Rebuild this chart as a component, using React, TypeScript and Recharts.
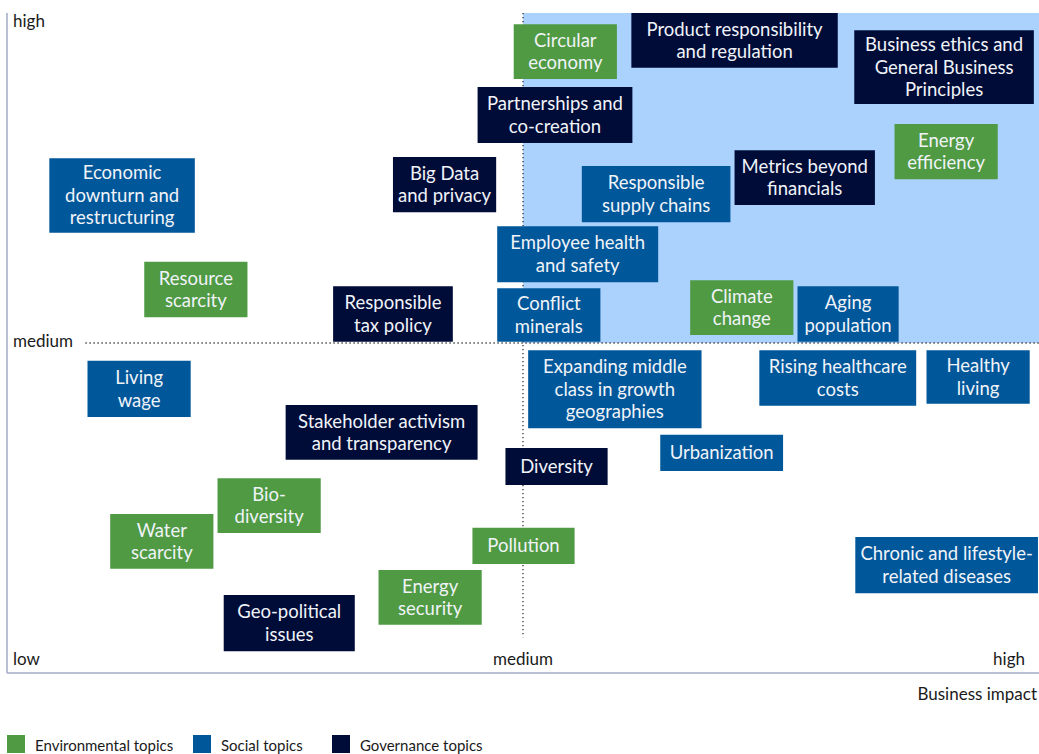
import React from 'react';
import { ScatterChart, Scatter, XAxis, YAxis, ReferenceArea, ReferenceLine } from 'recharts';

const FONT = 'Lato, "Liberation Sans", sans-serif';

// Topic labels ("\n" = line break)
const topics = [
  'Circular\neconomy',
  'Product responsibility\nand regulation',
  'Business ethics and\nGeneral Business\nPrinciples',
  'Partnerships and\nco-creation',
  'Energy\nefficiency',
  'Economic\ndownturn and\nrestructuring',
  'Big Data\nand privacy',
  'Metrics beyond\nfinancials',
  'Responsible\nsupply chains',
  'Employee health\nand safety',
  'Resource\nscarcity',
  'Responsible\ntax policy',
  'Conflict\nminerals',
  'Climate\nchange',
  'Aging\npopulation',
  'Living\nwage',
  'Expanding middle\nclass in growth\ngeographies',
  'Rising healthcare\ncosts',
  'Healthy\nliving',
  'Stakeholder activism\nand transparency',
  'Diversity',
  'Urbanization',
  'Bio-\ndiversity',
  'Water\nscarcity',
  'Pollution',
  'Chronic and lifestyle-\nrelated diseases',
  'Energy\nsecurity',
  'Geo-political\nissues',
];

// Topic group: env / soc / gov
const groups = [
  'env', 'gov', 'gov', 'gov', 'env', 'soc', 'gov', 'gov', 'soc', 'soc',
  'env', 'gov', 'soc', 'env', 'soc', 'soc', 'soc', 'soc', 'soc', 'gov',
  'gov', 'soc', 'env', 'env', 'env', 'soc', 'env', 'gov',
];

// Business impact range (0 = low, 50 = medium, 100 = high)
const impactFrom = [
  49.1, 60.5, 82.1, 45.6, 86.0, 4.1, 37.4, 70.5, 55.7, 47.5,
  13.3, 31.6, 47.5, 66.2, 76.6, 7.8, 50.5, 72.9, 89.1, 27.0,
  48.3, 63.3, 20.4, 10.0, 45.1, 82.2, 36.0, 21.0,
];
const impactTo = [
  59.1, 80.5, 99.5, 60.6, 96.0, 18.2, 47.4, 84.1, 70.1, 63.1,
  23.3, 43.2, 57.5, 76.2, 86.4, 17.8, 67.3, 88.1, 99.1, 45.6,
  58.2, 75.2, 30.4, 20.0, 55.0, 99.9, 46.0, 33.7,
];
// Stakeholder concern range (0 = low, 50 = medium, 100 = high)
const concernFrom = [
  90.0, 91.7, 86.2, 80.3, 74.8, 66.7, 69.8, 70.9, 68.3, 59.2,
  53.9, 50.2, 50.2, 51.2, 50.2, 38.8, 37.1, 40.5, 40.8, 32.3,
  28.5, 30.6, 21.2, 15.8, 16.5, 12.1, 7.3, 3.3,
];
const concernTo = [
  98.3, 100, 97.4, 88.8, 83.2, 78.0, 78.2, 79.2, 76.8, 67.7,
  62.3, 58.6, 58.3, 59.5, 58.6, 47.3, 48.9, 48.9, 48.9, 40.6,
  34.1, 36.1, 29.5, 24.1, 22.0, 20.6, 15.6, 11.8,
];

const xTicks = [0, 50, 100];
const xTickLabels = ['low', 'medium', 'high'];
const yTicks = [50, 100];
const yTickLabels = ['medium', 'high'];

const legendKeys = ['env', 'soc', 'gov'];
const legendLabels = ['Environmental topics', 'Social topics', 'Governance topics'];
const legendLeft = [7, 193, 332];

const COLORS: Record<string, string> = {
  env: '#4f9a43',
  soc: '#00579a',
  gov: '#000c38',
};

const BoxText = (props: any) => {
  const { viewBox, lines } = props;
  if (!viewBox) return null;
  const { x, y, width, height } = viewBox;
  const cx = x + width / 2;
  const cy = y + height / 2;
  const lh = 22.5;
  const n = lines.length;
  return (
    <text textAnchor="middle" fill="#f0f3f8" fontSize={18.5} fontFamily={FONT}>
      {lines.map((l: string, i: number) => (
        <tspan key={i} x={cx} y={cy + 6.5 + (i - (n - 1) / 2) * lh}>
          {l}
        </tspan>
      ))}
    </text>
  );
};

const XTick = (props: any) => {
  const { x, y, payload, index } = props;
  const anchor = index === 0 ? 'start' : index === xTicks.length - 1 ? 'end' : 'middle';
  const dx = index === 0 ? 6 : index === xTicks.length - 1 ? -2 : 0;
  return (
    <text x={x + dx} y={y - 8} textAnchor={anchor} fontSize={17} fontFamily={FONT} fill="#1a1a1a">
      {xTickLabels[xTicks.indexOf(payload.value)]}
    </text>
  );
};

const YTick = (props: any) => {
  const { x, y, payload } = props;
  const isTop = payload.value === 100;
  return (
    <text x={x + 6} y={isTop ? y + 14 : y + 4} textAnchor="start" fontSize={17} fontFamily={FONT} fill="#1a1a1a">
      {yTickLabels[yTicks.indexOf(payload.value)]}
    </text>
  );
};

export default function App() {
  const extra: any = {};
  return (
    <div style={{ position: 'absolute', left: 0, top: 0, width: 1039, height: 754, overflow: 'hidden', background: '#fff', fontFamily: FONT }}>
      <ScatterChart width={1039} height={754} margin={{ top: 13, right: 0, bottom: 80, left: 6 }}>
        <XAxis
          type="number"
          dataKey="x"
          domain={[0, 100]}
          ticks={xTicks}
          tick={<XTick />}
          tickLine={false}
          tickSize={0}
          tickMargin={0}
          height={1}
          axisLine={{ stroke: '#a3abc6', strokeWidth: 1.5 }}
          allowDataOverflow
        />
        <YAxis
          type="number"
          dataKey="y"
          domain={[0, 100]}
          ticks={yTicks}
          tick={<YTick />}
          tickLine={false}
          tickSize={0}
          tickMargin={0}
          width={1}
          axisLine={{ stroke: '#a3abc6', strokeWidth: 1.5 }}
          allowDataOverflow
        />
        <ReferenceArea
          {...extra}
          zIndex={-30}
          x1={50}
          x2={100}
          y1={50}
          y2={100}
          fill="#abd1fd"
          fillOpacity={1}
          stroke="none"
          ifOverflow="visible"
        />
        <ReferenceLine
          {...extra}
          zIndex={-20}
          segment={[{ x: 7.6, y: 50 }, { x: 100, y: 50 }]}
          stroke="#333"
          strokeWidth={1.3}
          strokeDasharray="1.3 2.7"
          ifOverflow="visible"
        />
        <ReferenceLine
          {...extra}
          zIndex={-20}
          segment={[{ x: 50, y: 100 }, { x: 50, y: 5.4 }]}
          stroke="#333"
          strokeWidth={1.3}
          strokeDasharray="1.3 2.7"
          ifOverflow="visible"
        />
        {topics.map((t, i) => (
          <ReferenceArea
            key={i}
            {...extra}
            zIndex={100}
            x1={impactFrom[i]}
            x2={impactTo[i]}
            y1={concernFrom[i]}
            y2={concernTo[i]}
            fill={COLORS[groups[i]]}
            fillOpacity={1}
            stroke="none"
            ifOverflow="visible"
            label={<BoxText lines={t.split('\n')} />}
          />
        ))}
        <Scatter data={[]} isAnimationActive={false} />
      </ScatterChart>
      <div style={{ position: 'absolute', right: 2, top: 684, fontSize: 17, color: '#1a1a1a', lineHeight: '20px' }}>
        Business impact
      </div>
      {legendKeys.map((k, i) => (
        <div key={k} style={{ position: 'absolute', left: legendLeft[i], top: 735, display: 'flex', alignItems: 'flex-start' }}>
          <div style={{ width: 18, height: 18, background: COLORS[k] }} />
          <div style={{ marginLeft: 10, fontSize: 15, lineHeight: '20px', color: '#1a1a1a', whiteSpace: 'nowrap' }}>{legendLabels[i]}</div>
        </div>
      ))}
    </div>
  );
}
